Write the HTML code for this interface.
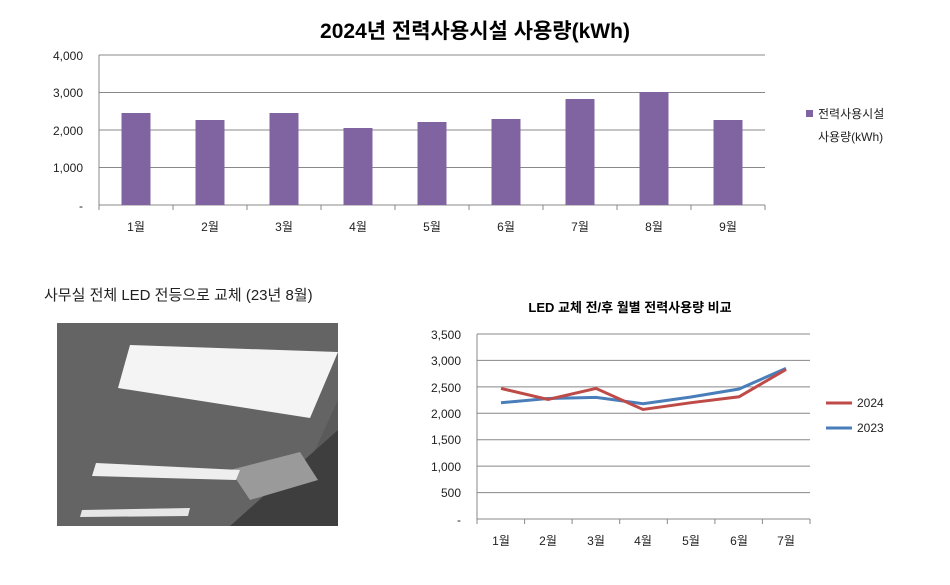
<!DOCTYPE html>
<html><head><meta charset="utf-8"><style>
body{margin:0;background:#fff;width:950px;height:580px;overflow:hidden;font-family:"Liberation Sans","Noto Sans CJK KR",sans-serif}
</style></head><body>
<svg width="950" height="580" xmlns="http://www.w3.org/2000/svg" font-family="Liberation Sans, Noto Sans CJK KR, sans-serif">
<text x="475" y="38" text-anchor="middle" font-size="21" font-weight="bold">2024년 전력사용시설 사용량(kWh)</text>
<g stroke="#888" stroke-width="1">
<line x1="99" y1="55" x2="765" y2="55"/><line x1="99" y1="92.5" x2="765" y2="92.5"/><line x1="99" y1="130" x2="765" y2="130"/><line x1="99" y1="167.5" x2="765" y2="167.5"/><line x1="99" y1="205" x2="765" y2="205"/>
<line x1="99" y1="55" x2="99" y2="210"/>
<line x1="173" y1="205" x2="173" y2="210"/><line x1="247" y1="205" x2="247" y2="210"/><line x1="321" y1="205" x2="321" y2="210"/><line x1="395" y1="205" x2="395" y2="210"/><line x1="469" y1="205" x2="469" y2="210"/><line x1="543" y1="205" x2="543" y2="210"/><line x1="617" y1="205" x2="617" y2="210"/><line x1="691" y1="205" x2="691" y2="210"/><line x1="765" y1="205" x2="765" y2="210"/>
</g>
<g font-size="12" text-anchor="end" fill="#222">
<text x="83" y="60">4,000</text><text x="83" y="97">3,000</text><text x="83" y="135">2,000</text><text x="83" y="172">1,000</text><text x="83" y="210">-</text>
</g>
<g fill="#8064a2">
<rect x="121.5" y="113" width="29" height="92"/>
<rect x="195.5" y="120" width="29" height="85"/>
<rect x="269.5" y="113" width="29" height="92"/>
<rect x="343.5" y="128" width="29" height="77"/>
<rect x="417.5" y="122" width="29" height="83"/>
<rect x="491.5" y="119" width="29" height="86"/>
<rect x="565.5" y="99" width="29" height="106"/>
<rect x="639.5" y="92" width="29" height="113"/>
<rect x="713.5" y="120" width="29" height="85"/>
</g>
<g font-size="12" text-anchor="middle" fill="#222">
<text x="136" y="231">1월</text><text x="210" y="231">2월</text><text x="284" y="231">3월</text><text x="358" y="231">4월</text><text x="432" y="231">5월</text><text x="506" y="231">6월</text><text x="580" y="231">7월</text><text x="654" y="231">8월</text><text x="728" y="231">9월</text>
</g>
<rect x="806" y="110" width="7" height="7" fill="#8064a2"/>
<text x="818" y="118" font-size="12" fill="#222">전력사용시설</text>
<text x="818" y="141" font-size="12" fill="#222">사용량(kWh)</text>

<text x="44" y="300" font-size="15" fill="#222">사무실 전체 LED 전등으로 교체 (23년 8월)</text>
<rect x="57" y="323" width="281" height="203" fill="#5a5a5a"/>
<polygon points="57,323 338,323 338,400 280,526 57,526" fill="#646464"/>
<polygon points="230,526 338,430 338,526" fill="#3e3e3e"/>
<polygon points="230,470 300,452 318,480 250,500" fill="#9a9a9a"/>
<polygon points="130,345 338,352 310,418 118,388" fill="#f4f4f4"/>
<polygon points="96,463 240,470 236,480 92,476" fill="#eeeeee"/>
<polygon points="82,510 190,508 188,516 80,517" fill="#e6e6e6"/>

<text x="630" y="312" text-anchor="middle" font-size="13" font-weight="bold">LED 교체 전/후 월별 전력사용량 비교</text>
<g stroke="#888" stroke-width="1">
<line x1="477" y1="334" x2="810" y2="334"/><line x1="477" y1="360.4" x2="810" y2="360.4"/><line x1="477" y1="386.9" x2="810" y2="386.9"/><line x1="477" y1="413.3" x2="810" y2="413.3"/><line x1="477" y1="439.7" x2="810" y2="439.7"/><line x1="477" y1="466.1" x2="810" y2="466.1"/><line x1="477" y1="492.6" x2="810" y2="492.6"/><line x1="477" y1="519" x2="810" y2="519"/>
<line x1="477" y1="334" x2="477" y2="524"/>
<line x1="524.6" y1="519" x2="524.6" y2="524"/><line x1="572.1" y1="519" x2="572.1" y2="524"/><line x1="619.7" y1="519" x2="619.7" y2="524"/><line x1="667.3" y1="519" x2="667.3" y2="524"/><line x1="714.9" y1="519" x2="714.9" y2="524"/><line x1="762.4" y1="519" x2="762.4" y2="524"/><line x1="810" y1="519" x2="810" y2="524"/>
</g>
<g font-size="12" text-anchor="end" fill="#222">
<text x="461" y="339">3,500</text><text x="461" y="365">3,000</text><text x="461" y="392">2,500</text><text x="461" y="418">2,000</text><text x="461" y="444">1,500</text><text x="461" y="471">1,000</text><text x="461" y="497">500</text><text x="461" y="524">-</text>
</g>
<polyline fill="none" stroke="#4a7ebb" stroke-width="3" points="501,402.7 548,398.5 596,397.4 643,403.7 691,397 739,389 786,368.4"/>
<polyline fill="none" stroke="#be4b48" stroke-width="3" points="501,388.4 548,399.5 596,388.4 643,409.5 691,402.7 739,396.8 786,369.5"/>
<g font-size="12" text-anchor="middle" fill="#222">
<text x="501" y="545">1월</text><text x="548" y="545">2월</text><text x="596" y="545">3월</text><text x="643" y="545">4월</text><text x="691" y="545">5월</text><text x="739" y="545">6월</text><text x="786" y="545">7월</text>
</g>
<line x1="826" y1="403" x2="852" y2="403" stroke="#be4b48" stroke-width="3"/>
<text x="857" y="407" font-size="12" fill="#222">2024</text>
<line x1="826" y1="428" x2="852" y2="428" stroke="#4a7ebb" stroke-width="3"/>
<text x="857" y="432" font-size="12" fill="#222">2023</text>
</svg>
</body></html>
